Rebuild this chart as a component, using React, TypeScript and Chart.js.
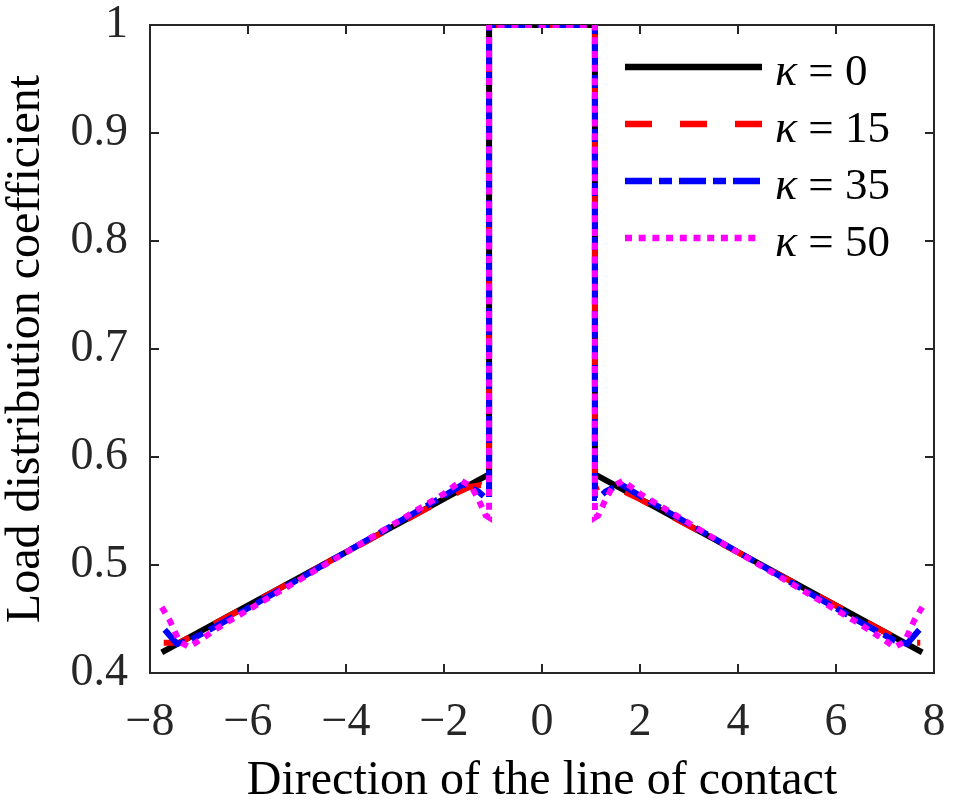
import { useEffect, useRef } from "react";
import { Chart, registerables } from "chart.js";
Chart.register(...registerables);

const FONT = "'Liberation Serif', 'Times New Roman', serif";
const AXIS = "#262626";

// x-axis / y-axis tick values
const xTickValues = [-8, -6, -4, -2, 0, 2, 4, 6, 8];
const yTickValues = [0.4, 0.5, 0.6, 0.7, 0.8, 0.9, 1];

// kappa = 0
const k0X = [-7.76, -1.08, -1.08, 1.08, 1.08, 7.76];
const k0Y = [0.419, 0.584, 1, 1, 0.584, 0.419];

// kappa = 15
const k15X = [-7.72, -7.4, -6.5, -5, -3.5, -2, -1.5, -1.25, -1.08, -1.08, 1.08, 1.08, 1.25, 1.5, 2, 3.5, 5, 6.5, 7.4, 7.72];
const k15Y = [0.428, 0.428, 0.45, 0.487, 0.524, 0.561, 0.572, 0.574, 0.571, 1, 1, 0.571, 0.574, 0.572, 0.561, 0.524, 0.487, 0.45, 0.428, 0.428];

// kappa = 35
const k35X = [-7.7, -7.45, -7.2, -6.5, -5, -3.5, -2, -1.6, -1.3, -1.15, -1.08, -1.08, 1.08, 1.08, 1.15, 1.3, 1.6, 2, 3.5, 5, 6.5, 7.2, 7.45, 7.7];
const k35Y = [0.44, 0.427, 0.43, 0.447, 0.486, 0.525, 0.564, 0.575, 0.568, 0.562, 0.562, 1, 1, 0.562, 0.562, 0.568, 0.575, 0.564, 0.525, 0.486, 0.447, 0.43, 0.427, 0.44];

// kappa = 50
const k50X = [-7.76, -7.6, -7.4, -7.2, -6.5, -5, -3.5, -2, -1.65, -1.45, -1.3, -1.15, -1.08, -1.08, 1.08, 1.08, 1.15, 1.3, 1.45, 1.65, 2, 3.5, 5, 6.5, 7.2, 7.4, 7.6, 7.76];
const k50Y = [0.461, 0.449, 0.429, 0.424, 0.445, 0.485, 0.525, 0.566, 0.578, 0.573, 0.561, 0.546, 0.544, 1, 1, 0.544, 0.546, 0.561, 0.573, 0.578, 0.566, 0.525, 0.485, 0.445, 0.424, 0.429, 0.449, 0.461];

const kappaValues = ["0", "15", "35", "50"];
const colors = ["#000000", "#ff0000", "#0000ff", "#ff00ff"];
const dashes: number[][] = [[], [27, 28], [27, 7, 13, 7], [7, 6.7]];
const xs = [k0X, k15X, k35X, k50X];
const ys = [k0Y, k15Y, k35Y, k50Y];

const frame = {
  id: "frame",
  beforeDatasetsDraw(chart: any) {
    const { ctx, chartArea: a, scales } = chart;
    ctx.save();
    ctx.strokeStyle = AXIS;
    ctx.lineWidth = 2;
    ctx.setLineDash([]);
    ctx.strokeRect(a.left, a.top, a.right - a.left, a.bottom - a.top);
    const L = 9;
    ctx.beginPath();
    for (const v of xTickValues) {
      const px = scales.x.getPixelForValue(v);
      ctx.moveTo(px, a.bottom);
      ctx.lineTo(px, a.bottom - L);
      ctx.moveTo(px, a.top);
      ctx.lineTo(px, a.top + L);
    }
    for (const v of yTickValues) {
      const py = scales.y.getPixelForValue(v);
      ctx.moveTo(a.left, py);
      ctx.lineTo(a.left + L, py);
      ctx.moveTo(a.right, py);
      ctx.lineTo(a.right - L, py);
    }
    ctx.stroke();
    ctx.restore();
  },
};

const legendPlugin = {
  id: "customLegend",
  afterDatasetsDraw(chart: any) {
    const { ctx, chartArea: a } = chart;
    ctx.save();
    const x0 = a.left + 475;
    const x1 = a.left + 612;
    const tx = a.left + 625;
    for (let i = 0; i < 4; i++) {
      const y = a.top + 42 + i * 57;
      ctx.beginPath();
      ctx.strokeStyle = colors[i];
      ctx.lineWidth = 6.5;
      ctx.lineCap = "butt";
      ctx.setLineDash(dashes[i]);
      ctx.moveTo(x0, y);
      ctx.lineTo(x1, y);
      ctx.stroke();
      ctx.setLineDash([]);
      ctx.fillStyle = "#000";
      ctx.textBaseline = "alphabetic";
      ctx.textAlign = "left";
      ctx.font = `italic 46px ${FONT}`;
      ctx.fillText("\u03ba", tx, y + 18);
      const w = ctx.measureText("\u03ba").width;
      ctx.font = `45px ${FONT}`;
      ctx.fillText(" = " + kappaValues[i], tx + w, y + 18);
    }
    ctx.restore();
  },
};

export default function App() {
  const ref = useRef<HTMLCanvasElement | null>(null);
  useEffect(() => {
    if (!ref.current) return;
    const datasets = xs.map((xa, i) => ({
      label: "\u03ba = " + kappaValues[i],
      data: xa.map((x, j) => ({ x, y: ys[i][j] })),
      borderColor: colors[i],
      backgroundColor: colors[i],
      borderWidth: 6,
      borderDash: dashes[i],
      borderCapStyle: "butt" as const,
      borderJoinStyle: "miter" as const,
      pointRadius: 0,
      tension: 0,
      fill: false,
      order: 4 - i,
    }));
    const chart = new Chart(ref.current, {
      type: "line",
      data: { datasets },
      options: {
        animation: false,
        responsive: false,
        devicePixelRatio: 1,
        layout: { padding: { top: 25, right: 19, left: 0, bottom: 0 } },
        plugins: { legend: { display: false }, tooltip: { enabled: false } },
        scales: {
          x: {
            type: "linear",
            min: -8,
            max: 8,
            grid: { display: false, drawTicks: false },
            border: { display: false },
            ticks: {
              stepSize: 2,
              autoSkip: false,
              maxRotation: 0,
              padding: 22,
              color: AXIS,
              font: { family: FONT, size: 46 },
              callback: (v: any) => (Number(v) < 0 ? "\u2212" + Math.abs(Number(v)) : String(v)),
            },
            title: {
              display: true,
              text: "Direction of the line of contact",
              color: "#000",
              font: { family: FONT, size: 48, lineHeight: 1 },
              padding: { top: 0, bottom: 1 },
            },
            afterFit: (s: any) => {
              s.height = 133;
              s.paddingLeft = 0;
              s.paddingRight = 0;
            },
          },
          y: {
            type: "linear",
            min: 0.4,
            max: 1,
            grid: { display: false, drawTicks: false },
            border: { display: false },
            ticks: {
              stepSize: 0.1,
              padding: 22,
              color: AXIS,
              font: { family: FONT, size: 46 },
              callback: (v: any) => String(Math.round(Number(v) * 10) / 10),
            },
            title: {
              display: true,
              text: "Load distribution coefficient",
              color: "#000",
              font: { family: FONT, size: 48, lineHeight: 1 },
              padding: { top: 2, bottom: 0 },
            },
            afterFit: (s: any) => {
              s.width = 150;
              s.paddingTop = 0;
              s.paddingBottom = 0;
            },
          },
        },
      },
      plugins: [frame, legendPlugin],
    });
    return () => chart.destroy();
  }, []);
  return (
    <div style={{ position: "fixed", left: 0, top: 0, width: 953, height: 806, background: "#fff" }}>
      <canvas ref={ref} width={953} height={806} style={{ width: 953, height: 806, display: "block" }} />
    </div>
  );
}
